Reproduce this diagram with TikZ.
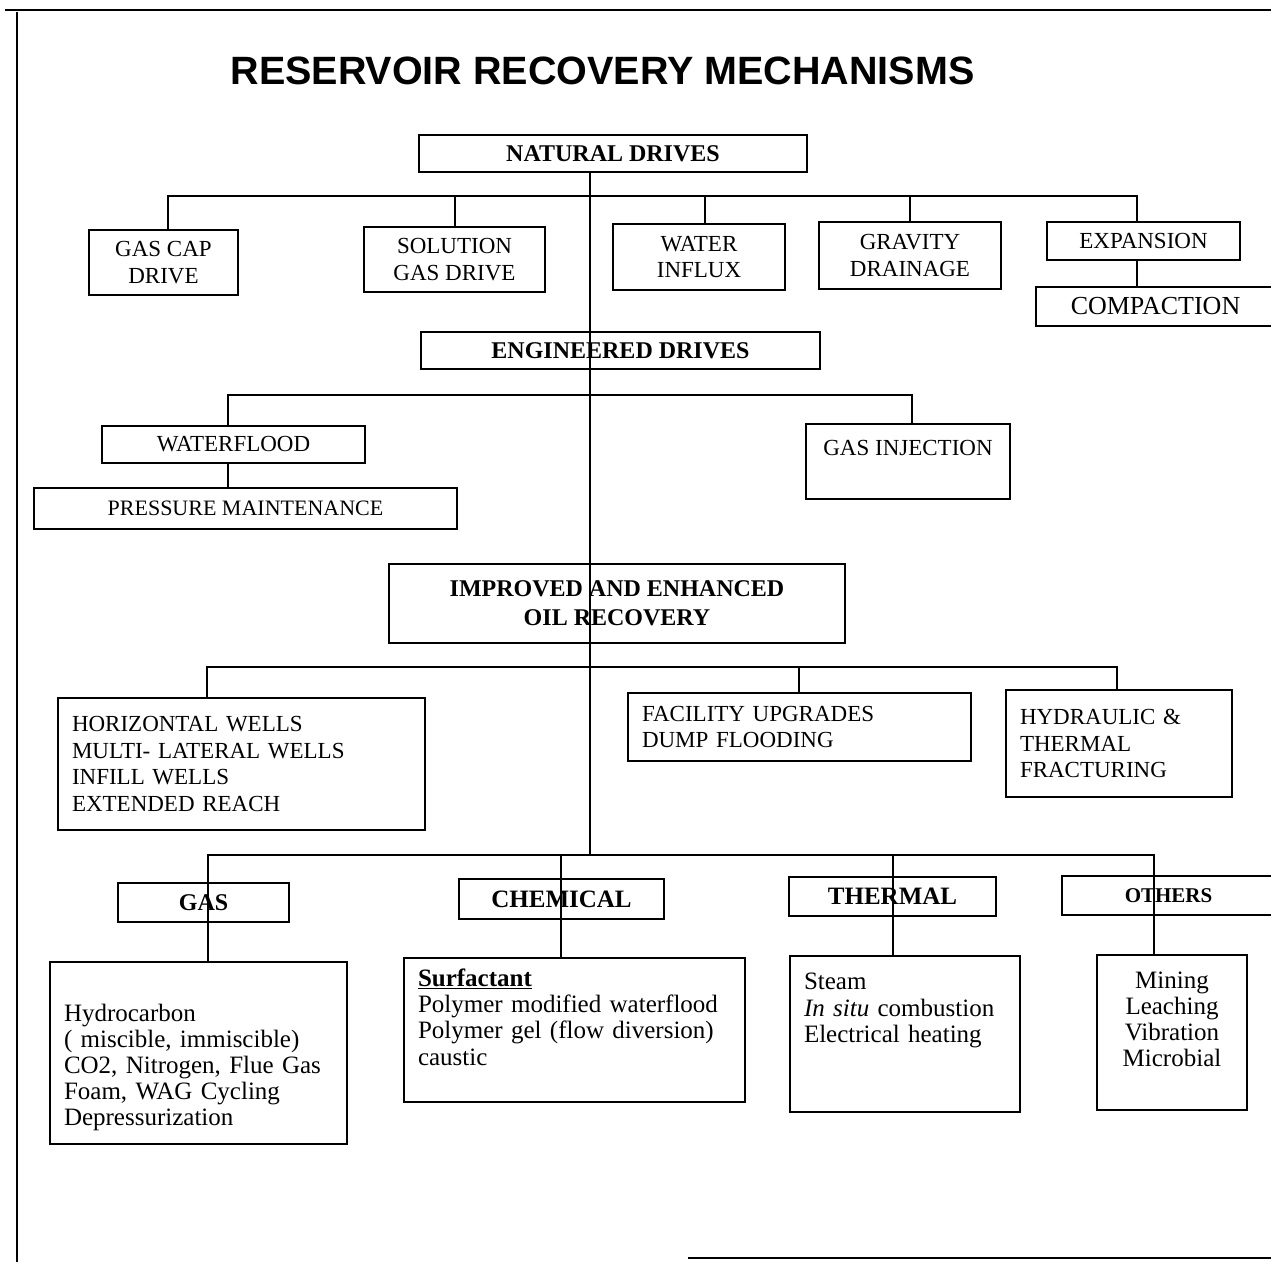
\documentclass[tikz,border=0pt]{standalone}
\usepackage{fontspec}
\setmainfont{Liberation Serif}
\newfontfamily\ttlfont{Liberation Sans}
\newcommand\rgfont{\fontsize{23}{26.7}\selectfont}
\newcommand\bdfont{\fontsize{24}{29}\selectfont\bfseries}
\newcommand\lcfont{\fontsize{25}{26.2}\selectfont}
\tikzset{
  ln/.style={line width=1.4pt},
  bx/.style={draw, line width=1.4pt, inner sep=0pt, align=center, font=\rgfont},
  cb/.style={bx, font=\bdfont},
  lbox/.style={draw, line width=1.4pt, inner ysep=0pt, inner xsep=14pt, align=left, font=\rgfont},
}
\begin{document}
\begin{tikzpicture}[x=1pt,y=-1pt]
\useasboundingbox (0,0) rectangle (1271,1262);
% frame
\draw[ln] (5,10) -- (1271,10);
\draw[ln] (17,12) -- (17,1262);
\draw[ln] (688,1258) -- (1271,1258);
% title
\node (title) at (602.5,71) {\ttlfont\bfseries\fontsize{39.5}{44}\selectfont RESERVOIR RECOVERY MECHANISMS};
% natural drives
\node[cb, minimum width=388, minimum height=37] (nat) at (613,153.5) {NATURAL DRIVES};
\node[bx, minimum width=149, minimum height=65] (gascap) at (163.5,262.5) {GAS CAP\\DRIVE};
\node[bx, minimum width=181, minimum height=65] (sol) at (454.5,259.5) {SOLUTION\\GAS DRIVE};
\node[bx, minimum width=172, minimum height=66] (wat) at (699,257) {WATER\\INFLUX};
\node[bx, minimum width=182, minimum height=67] (grav) at (910,255.5) {GRAVITY\\DRAINAGE};
\node[bx, minimum width=193, minimum height=38] (exp) at (1143.5,241) {EXPANSION};
\node[bx, minimum width=239, minimum height=39, font=\fontsize{26}{30}\selectfont] (comp) at (1155.5,306.5) {COMPACTION};
% engineered drives
\node[cb, minimum width=399, minimum height=37] (eng) at (620.5,350.5) {ENGINEERED DRIVES};
\node[bx, minimum width=263, minimum height=37] (wf) at (233.5,444.5) {WATERFLOOD};
\node[bx, minimum width=423, minimum height=41, font=\fontsize{22}{26}\selectfont] (pm) at (245.5,508.5) {PRESSURE MAINTENANCE};
\node[bx, minimum width=204, minimum height=75] (gi) at (908,461.5) {GAS INJECTION\\\mbox{}};
% improved and enhanced
\node[cb, minimum width=456, minimum height=79] (ieor) at (617,603.5) {IMPROVED AND ENHANCED\\OIL RECOVERY};
\node[lbox, text width=339, minimum height=132] (hz) at (241.5,764) {HORIZONTAL WELLS\\MULTI- LATERAL WELLS\\INFILL WELLS\\EXTENDED REACH};
\node[lbox, text width=315, minimum height=68] (fac) at (799.5,727) {FACILITY UPGRADES\\DUMP FLOODING};
\node[lbox, text width=198, minimum height=107] (hyd) at (1119,743.5) {HYDRAULIC \&\\THERMAL\\FRACTURING};
% EOR categories
\node[cb, minimum width=171, minimum height=39] (gas) at (203.5,902.5) {GAS};
\node[cb, minimum width=205, minimum height=40, font=\fontsize{25}{29}\selectfont\bfseries] (chem) at (561.5,899) {CHEMICAL};
\node[cb, minimum width=207, minimum height=39, font=\fontsize{25}{29}\selectfont\bfseries] (therm) at (892.5,896.5) {THERMAL};
\node[cb, minimum width=213, minimum height=39, font=\fontsize{21}{25}\selectfont\bfseries] (oth) at (1168.5,895.5) {OTHERS};
\node[lbox, font=\lcfont, text width=269, minimum height=182] (gasd) at (198.5,1053) {\mbox{}\\[20pt]Hydrocarbon\\( miscible, immiscible)\\CO2, Nitrogen, Flue Gas\\Foam, WAG Cycling\\Depressurization};
\node[lbox, font=\lcfont, text width=313, minimum height=144] (chemd) at (574.5,1030) {\textbf{\underline{Surfactant}}\\Polymer modified waterflood\\Polymer gel (flow diversion)\\caustic\\\mbox{}};
\node[lbox, font=\lcfont, text width=202, minimum height=156] (thermd) at (905,1034) {Steam\\\textit{In situ} combustion\\Electrical heating\\\mbox{}\\\mbox{}};
\node[bx, font=\lcfont, minimum width=150, minimum height=155] (othd) at (1172,1032.5) {Mining\\Leaching\\Vibration\\Microbial\\\mbox{}};
% bus coordinates
\coordinate (tb) at (590,855);
\coordinate (n1) at (168,196);
\coordinate (n2) at (455,196);
\coordinate (n3) at (705,196);
\coordinate (n4) at (910,196);
\coordinate (n5) at (1137,196);
\coordinate (e1) at (228,395);
\coordinate (e2) at (912,395);
\coordinate (i1) at (207,667);
\coordinate (i2) at (799,667);
\coordinate (i3) at (1117,667);
\coordinate (b1) at (208,855);
\coordinate (b2) at (561,855);
\coordinate (b3) at (893,855);
\coordinate (b4) at (1154,855);
% trunk
\draw[ln] (nat.south -| tb) -- (tb);
% natural drives connectors
\draw[ln] (n1 |- gascap.north) -- (n1) -- (n5) -- (n5 |- exp.north);
\draw[ln] (n2) -- (n2 |- sol.north);
\draw[ln] (n3) -- (n3 |- wat.north);
\draw[ln] (n4) -- (n4 |- grav.north);
\draw[ln] (n5 |- exp.south) -- (n5 |- comp.north);
% engineered drives connectors
\draw[ln] (e1 |- wf.north) -- (e1) -- (e2) -- (e2 |- gi.north);
\draw[ln] (e1 |- wf.south) -- (e1 |- pm.north);
% improved connectors
\draw[ln] (i1 |- hz.north) -- (i1) -- (i3) -- (i3 |- hyd.north);
\draw[ln] (i2) -- (i2 |- fac.north);
% EOR connectors
\draw[ln] (b1 |- gasd.north) -- (b1) -- (b4) -- (b4 |- othd.north);
\draw[ln] (b2) -- (b2 |- chemd.north);
\draw[ln] (b3) -- (b3 |- thermd.north);
\end{tikzpicture}
\end{document}
